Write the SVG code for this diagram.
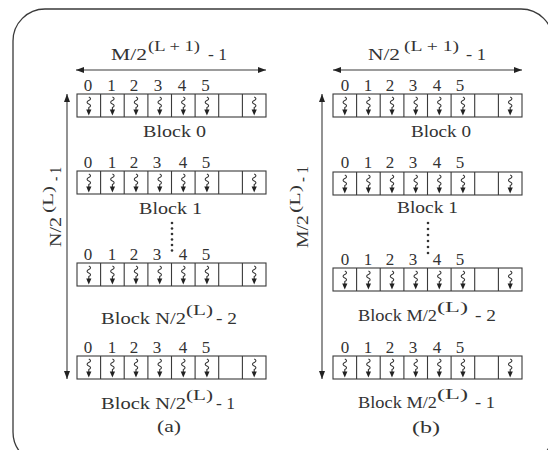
<svg xmlns="http://www.w3.org/2000/svg" xmlns:xlink="http://www.w3.org/1999/xlink" width="548" height="450" viewBox="0 0 548 450" font-family="'Liberation Serif', 'Times New Roman', serif">
  <style>
    .frame { fill: #fff; stroke: #3a3a3a; stroke-width: 1.3; }
    .row { fill: none; stroke: #3a3a3a; stroke-width: 1.1; }
    .conn { fill: none; stroke: #3a3a3a; stroke-width: 1.1; }
    text { fill: #333; }
    .lbl { font-size: 17px; }
    .sup { font-size: 14px; }
    .dig { font-size: 17px; text-anchor: middle; }
    .dot { fill: #333; }
  </style>
  <defs>
    <marker id="head" viewBox="0 0 8 6" refX="8" refY="3" markerWidth="8" markerHeight="6" markerUnits="userSpaceOnUse" orient="auto-start-reverse">
      <path d="M0,0 L8,3 L0,6 Z" fill="#222"/>
    </marker>
    <!-- wavy downward data arrow drawn inside one cell -->
    <g id="sq">
      <path d="M0,3 C2.3,4 2.3,5.5 0,6.5 C-2.3,7.5 -2.3,9 0,10 C2.3,11 2.3,12.5 0,13.5 L0,17" fill="none" stroke="#333" stroke-width="1.1"/>
      <path d="M-2.6,15.5 L2.6,15.5 L0,21.5 Z" fill="#222"/>
    </g>
    <!-- one row of 8 cells, the seventh left empty -->
    <g id="rowL">
      <rect class="row" x="0" y="0" width="189" height="23"/>
      <path class="row" d="M23.6,0V23 M47.2,0V23 M70.9,0V23 M94.5,0V23 M118.1,0V23 M141.7,0V23 M165.4,0V23"/>
      <use xlink:href="#sq" x="11.8"/>
      <use xlink:href="#sq" x="35.4"/>
      <use xlink:href="#sq" x="59"/>
      <use xlink:href="#sq" x="82.7"/>
      <use xlink:href="#sq" x="106.3"/>
      <use xlink:href="#sq" x="129.9"/>
      <use xlink:href="#sq" x="177.2"/>
    </g>
  </defs>

  <rect class="frame" x="13" y="9" width="540" height="455" rx="32" ry="32"/>

  <!-- (a) -->
  <g id="titleA">
    <text class="lbl" x="111" y="60" textLength="36" lengthAdjust="spacingAndGlyphs">M/2</text>
    <text class="sup" x="148" y="51" textLength="52" lengthAdjust="spacingAndGlyphs">(L + 1)</text>
    <text class="lbl" x="208" y="60" textLength="19" lengthAdjust="spacingAndGlyphs">- 1</text>
  </g>
  <g id="sideA" transform="translate(61,247) rotate(-90)">
    <text class="lbl" x="0" y="0" textLength="30" lengthAdjust="spacingAndGlyphs">N/2</text>
    <text class="sup" x="34" y="-8" textLength="27" lengthAdjust="spacingAndGlyphs">(L)</text>
    <text class="lbl" x="66" y="0" textLength="14" lengthAdjust="spacingAndGlyphs">- 1</text>
  </g>

  <g id="a-block0">
    <g class="dig">
      <text x="88" y="91">0</text><text x="111.5" y="91">1</text><text x="134" y="91">2</text>
      <text x="158" y="91">3</text><text x="182" y="91">4</text><text x="205.5" y="91">5</text>
    </g>
    <use xlink:href="#rowL" x="77" y="94"/>
    <text class="lbl" x="143" y="137" textLength="63" lengthAdjust="spacingAndGlyphs">Block 0</text>
  </g>
  <g id="a-block1">
    <g class="dig">
      <text x="88" y="168">0</text><text x="112" y="168">1</text><text x="134" y="168">2</text>
      <text x="157" y="168">3</text><text x="183" y="168">4</text><text x="206" y="168">5</text>
    </g>
    <use xlink:href="#rowL" x="77" y="171"/>
    <text class="lbl" x="139" y="214" textLength="63" lengthAdjust="spacingAndGlyphs">Block 1</text>
  </g>
  <g id="a-dots">
    <circle class="dot" cx="172" cy="223" r="1.3"/><circle class="dot" cx="172" cy="228.5" r="1.3"/>
    <circle class="dot" cx="172" cy="234" r="1.3"/><circle class="dot" cx="172" cy="239.5" r="1.3"/>
    <circle class="dot" cx="172" cy="245" r="1.3"/><circle class="dot" cx="172" cy="250.5" r="1.3"/>
  </g>
  <g id="a-block-n2">
    <g class="dig">
      <text x="88" y="260">0</text><text x="112" y="260">1</text><text x="134" y="260">2</text>
      <text x="157" y="260">3</text><text x="183" y="260">4</text><text x="206" y="260">5</text>
    </g>
    <use xlink:href="#rowL" x="77" y="263"/>
    <text class="lbl" x="101" y="324" textLength="85" lengthAdjust="spacingAndGlyphs">Block N/2</text>
    <text class="sup" x="186" y="315" textLength="27" lengthAdjust="spacingAndGlyphs">(L)</text>
    <text class="lbl" x="216" y="324" textLength="21" lengthAdjust="spacingAndGlyphs">- 2</text>
  </g>
  <g id="a-block-n1">
    <g class="dig">
      <text x="88" y="353">0</text><text x="112" y="353">1</text><text x="134" y="353">2</text>
      <text x="157" y="353">3</text><text x="183" y="353">4</text><text x="206" y="353">5</text>
    </g>
    <use xlink:href="#rowL" x="77" y="356"/>
    <text class="lbl" x="101" y="409" textLength="85" lengthAdjust="spacingAndGlyphs">Block N/2</text>
    <text class="sup" x="186" y="400" textLength="27" lengthAdjust="spacingAndGlyphs">(L)</text>
    <text class="lbl" x="216" y="409" textLength="19" lengthAdjust="spacingAndGlyphs">- 1</text>
  </g>
  <text id="capA" class="lbl" x="157" y="432" textLength="24" lengthAdjust="spacingAndGlyphs">(a)</text>

  <!-- (b) -->
  <g id="titleB">
    <text class="lbl" x="368" y="60" textLength="32" lengthAdjust="spacingAndGlyphs">N/2</text>
    <text class="sup" x="404" y="51" textLength="55" lengthAdjust="spacingAndGlyphs">(L + 1)</text>
    <text class="lbl" x="466" y="60" textLength="20" lengthAdjust="spacingAndGlyphs">- 1</text>
  </g>
  <g id="sideB" transform="translate(308,248) rotate(-90)">
    <text class="lbl" x="0" y="0" textLength="33" lengthAdjust="spacingAndGlyphs">M/2</text>
    <text class="sup" x="35" y="-8" textLength="28" lengthAdjust="spacingAndGlyphs">(L)</text>
    <text class="lbl" x="66" y="0" textLength="16" lengthAdjust="spacingAndGlyphs">- 1</text>
  </g>

  <g id="b-block0">
    <g class="dig">
      <text x="345" y="91">0</text><text x="368" y="91">1</text><text x="390" y="91">2</text>
      <text x="413" y="91">3</text><text x="437" y="91">4</text><text x="460" y="91">5</text>
    </g>
    <use xlink:href="#rowL" x="333" y="94"/>
    <text class="lbl" x="411" y="137" textLength="60" lengthAdjust="spacingAndGlyphs">Block 0</text>
  </g>
  <g id="b-block1">
    <g class="dig">
      <text x="345" y="168">0</text><text x="368" y="168">1</text><text x="390" y="168">2</text>
      <text x="413" y="168">3</text><text x="437" y="168">4</text><text x="460" y="168">5</text>
    </g>
    <use xlink:href="#rowL" x="333" y="172"/>
    <text class="lbl" x="397" y="213" textLength="61" lengthAdjust="spacingAndGlyphs">Block 1</text>
  </g>
  <g id="b-dots">
    <circle class="dot" cx="428" cy="223" r="1.3"/><circle class="dot" cx="428" cy="229" r="1.3"/>
    <circle class="dot" cx="428" cy="235" r="1.3"/><circle class="dot" cx="428" cy="241" r="1.3"/>
    <circle class="dot" cx="428" cy="247" r="1.3"/><circle class="dot" cx="428" cy="253" r="1.3"/>
  </g>
  <g id="b-block-m2">
    <g class="dig">
      <text x="345" y="265">0</text><text x="368" y="265">1</text><text x="390" y="265">2</text>
      <text x="413" y="265">3</text><text x="437" y="265">4</text><text x="460" y="265">5</text>
    </g>
    <use xlink:href="#rowL" x="333" y="268"/>
    <text class="lbl" x="358" y="321" textLength="79" lengthAdjust="spacingAndGlyphs">Block M/2</text>
    <text class="sup" x="437" y="312" textLength="31" lengthAdjust="spacingAndGlyphs">(L)</text>
    <text class="lbl" x="475" y="321" textLength="21" lengthAdjust="spacingAndGlyphs">- 2</text>
  </g>
  <g id="b-block-m1">
    <g class="dig">
      <text x="345" y="353">0</text><text x="368" y="353">1</text><text x="390" y="353">2</text>
      <text x="413" y="353">3</text><text x="437" y="353">4</text><text x="460" y="353">5</text>
    </g>
    <use xlink:href="#rowL" x="333" y="356"/>
    <text class="lbl" x="358" y="408" textLength="79" lengthAdjust="spacingAndGlyphs">Block M/2</text>
    <text class="sup" x="437" y="399" textLength="31" lengthAdjust="spacingAndGlyphs">(L)</text>
    <text class="lbl" x="475" y="408" textLength="20" lengthAdjust="spacingAndGlyphs">- 1</text>
  </g>
  <text id="capB" class="lbl" x="412" y="433" textLength="28" lengthAdjust="spacingAndGlyphs">(b)</text>

  <!-- dimension arrows -->
  <g id="connectors">
    <line class="conn" x1="76" y1="70" x2="266" y2="70" marker-start="url(#head)" marker-end="url(#head)"/>
    <line class="conn" x1="67" y1="94" x2="67" y2="379" marker-start="url(#head)" marker-end="url(#head)"/>
    <line class="conn" x1="333" y1="70" x2="522" y2="70" marker-start="url(#head)" marker-end="url(#head)"/>
    <line class="conn" x1="322" y1="94" x2="322" y2="379" marker-start="url(#head)" marker-end="url(#head)"/>
  </g>
</svg>
